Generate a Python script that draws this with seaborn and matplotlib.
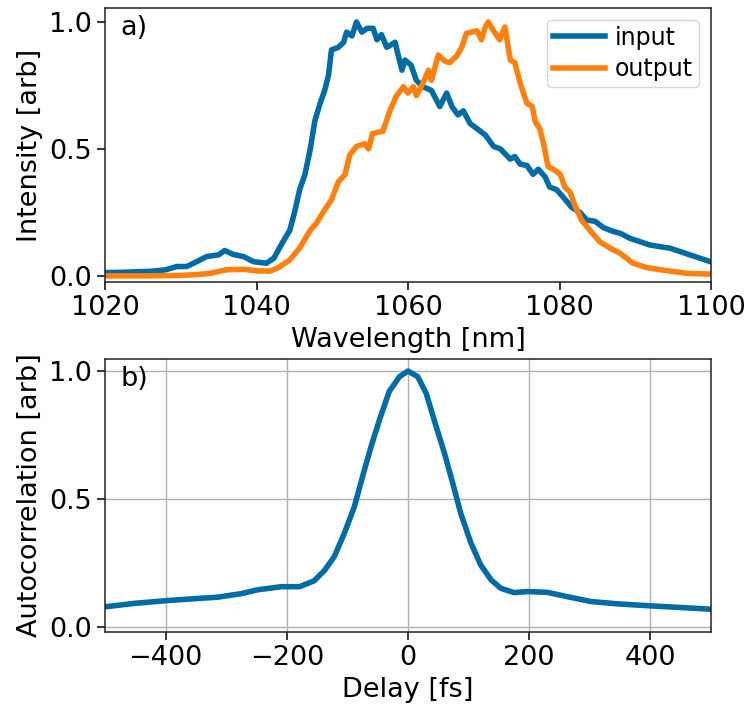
import numpy as np
import pandas as pd
import matplotlib
matplotlib.use("Agg")
import matplotlib.pyplot as plt
import seaborn as sns

# ---- data ----
wl_in = [1020, 1022, 1024, 1026, 1028, 1029.5, 1030.8, 1032.1, 1033.4, 1035, 1035.8, 1036.9,
         1038.3, 1039.6, 1041.3, 1042.3, 1043.4, 1044.4, 1045.1, 1045.7, 1046.4, 1047.1, 1047.7,
         1048.4, 1049.0, 1049.5, 1049.9, 1050.8, 1051.5, 1051.9, 1052.6, 1053.2, 1053.9, 1054.6,
         1055.4, 1055.9, 1056.5, 1057.2, 1058.3, 1058.7, 1059.2, 1059.6, 1060.4, 1061.1, 1062.0,
         1063.1, 1064.2, 1065.1, 1065.8, 1066.6, 1067.3, 1068.2, 1069.1, 1070.2, 1071.3, 1072.2,
         1073.5, 1074.1, 1074.8, 1075.7, 1076.5, 1077.2, 1078.1, 1078.7, 1079.6, 1080.5, 1081.6,
         1082.7, 1083.6, 1084.7, 1085.8, 1087.1, 1088.0, 1089.3, 1090.6, 1091.9, 1093.3, 1094.6,
         1095.9, 1097.2, 1098.5, 1100]
int_in = [0.013, 0.014, 0.016, 0.018, 0.024, 0.037, 0.037, 0.056, 0.076, 0.083, 0.100, 0.085,
          0.076, 0.056, 0.050, 0.070, 0.130, 0.180, 0.260, 0.340, 0.400, 0.500, 0.610,
          0.680, 0.730, 0.790, 0.890, 0.900, 0.920, 0.960, 0.945, 1.000, 0.960, 0.975,
          0.975, 0.930, 0.950, 0.900, 0.920, 0.870, 0.810, 0.850, 0.830, 0.770, 0.745,
          0.730, 0.667, 0.720, 0.667, 0.634, 0.650, 0.600, 0.580, 0.555, 0.510, 0.500,
          0.460, 0.470, 0.440, 0.435, 0.400, 0.420, 0.390, 0.350, 0.340, 0.310, 0.270,
          0.250, 0.220, 0.215, 0.190, 0.175, 0.168, 0.148, 0.135, 0.122, 0.115, 0.109,
          0.096, 0.083, 0.070, 0.055]

wl_out = [1020, 1025, 1030, 1032, 1033.9, 1036, 1038.3, 1040, 1041.8, 1042.7, 1043.1, 1044.4,
          1045.7, 1047.1, 1047.9, 1049.0, 1049.9, 1050.8, 1051.7, 1052.3, 1053.2, 1054.3, 1054.8,
          1055.3, 1056.7, 1057.6, 1058.5, 1059.4, 1060.0, 1060.7, 1061.1, 1062.0, 1062.7, 1063.1,
          1064.0, 1064.9, 1065.5, 1066.4, 1067.1, 1067.7, 1068.4, 1069.1, 1069.7, 1070.2, 1070.6,
          1071.3, 1072.1, 1072.8, 1073.5, 1074.1, 1074.8, 1075.7, 1076.4, 1076.8, 1077.4, 1077.9,
          1078.5, 1079.2, 1080.1, 1080.7, 1081.4, 1082.0, 1082.9, 1084.0, 1085.3, 1086.7, 1088.0,
          1089.7, 1091.5, 1094.1, 1096.8, 1100]
int_out = [0.000, 0.000, 0.002, 0.005, 0.010, 0.024, 0.026, 0.020, 0.019, 0.030, 0.037, 0.063,
           0.110, 0.180, 0.207, 0.260, 0.300, 0.370, 0.400, 0.476, 0.510, 0.520, 0.500,
           0.560, 0.570, 0.650, 0.710, 0.745, 0.720, 0.745, 0.710, 0.760, 0.810, 0.770,
           0.870, 0.845, 0.840, 0.865, 0.900, 0.955, 0.960, 0.965, 0.930, 0.980, 1.000,
           0.965, 0.930, 0.980, 0.850, 0.840, 0.760, 0.680, 0.667, 0.607, 0.580, 0.520,
           0.430, 0.420, 0.400, 0.350, 0.330, 0.280, 0.220, 0.180, 0.135, 0.109, 0.089,
           0.050, 0.033, 0.021, 0.010, 0.007]

delay = [-498, -451, -396, -341, -314, -275, -248, -209, -179, -155, -138, -121.5, -105, -88.5,
         -72, -61, -47, -31, -14, 0, 16, 30, 43, 60, 74, 87, 104, 120, 137, 153, 175, 197, 230,
         263, 302, 346, 401, 456, 500]
autocorr = [0.079, 0.092, 0.103, 0.112, 0.116, 0.130, 0.145, 0.157, 0.157, 0.180, 0.220, 0.275,
            0.366, 0.470, 0.613, 0.704, 0.810, 0.920, 0.978, 1.000, 0.978, 0.913, 0.810, 0.680,
            0.560, 0.444, 0.327, 0.242, 0.184, 0.151, 0.134, 0.138, 0.135, 0.118, 0.099, 0.090,
            0.082, 0.075, 0.069]

xticks_top = [1020, 1040, 1060, 1080, 1100]
xticks_bot = [-400, -200, 0, 200, 400]
yticks = [0.0, 0.5, 1.0]

BLUE = "#006BA4"
ORANGE = "#FF800E"
FS = 19.5
LW = 4.0

plt.rcParams["font.family"] = ["DejaVu Sans"]
plt.rcParams["axes.linewidth"] = 1.1

fig = plt.figure(figsize=(7.49, 7.10), dpi=100)
ax1 = fig.add_axes([105 / 749, 1 - 282 / 710, 606 / 749, 274 / 710])
ax2 = fig.add_axes([105 / 749, 1 - 632 / 710, 606 / 749, 273 / 710])

df_in = pd.DataFrame({"wl": wl_in, "I": int_in})
df_out = pd.DataFrame({"wl": wl_out, "I": int_out})
df_ac = pd.DataFrame({"t": delay, "A": autocorr})

sns.lineplot(data=df_in, x="wl", y="I", ax=ax1, color=BLUE, lw=LW, label="input",
             estimator=None)
sns.lineplot(data=df_out, x="wl", y="I", ax=ax1, color=ORANGE, lw=LW, label="output",
             estimator=None)
ax1.set_xlim(1020, 1100)
ax1.set_ylim(-0.024, 1.055)
ax1.set_xticks(xticks_top)
ax1.set_yticks(yticks)
ax1.set_xlabel("Wavelength [nm]", fontsize=FS)
ax1.set_ylabel("Intensity [arb]", fontsize=FS)
ax1.text(0.025, 0.975, "a)", transform=ax1.transAxes, ha="left", va="top", fontsize=FS)
leg = ax1.legend(loc="upper right", fontsize=17, handlelength=2.2, borderaxespad=0.5,
                 borderpad=0.25, labelspacing=0.3, handletextpad=0.45)

sns.lineplot(data=df_ac, x="t", y="A", ax=ax2, color=BLUE, lw=LW, estimator=None)
ax2.set_xlim(-500, 500)
ax2.set_ylim(-0.02, 1.047)
ax2.set_xticks(xticks_bot)
ax2.set_yticks(yticks)
ax2.grid(True, color="#b0b0b0", lw=1.0)
ax2.set_axisbelow(True)
ax2.set_xlabel("Delay [fs]", fontsize=FS)
ax2.set_ylabel("Autocorrelation [arb]", fontsize=FS)
ax2.text(0.025, 0.975, "b)", transform=ax2.transAxes, ha="left", va="top", fontsize=FS)

for ax in (ax1, ax2):
    ax.tick_params(labelsize=FS, length=6, width=1.1, direction="out")
    for s in ax.spines.values():
        s.set_color("#222222")

fig.savefig("out.png", dpi=100)
